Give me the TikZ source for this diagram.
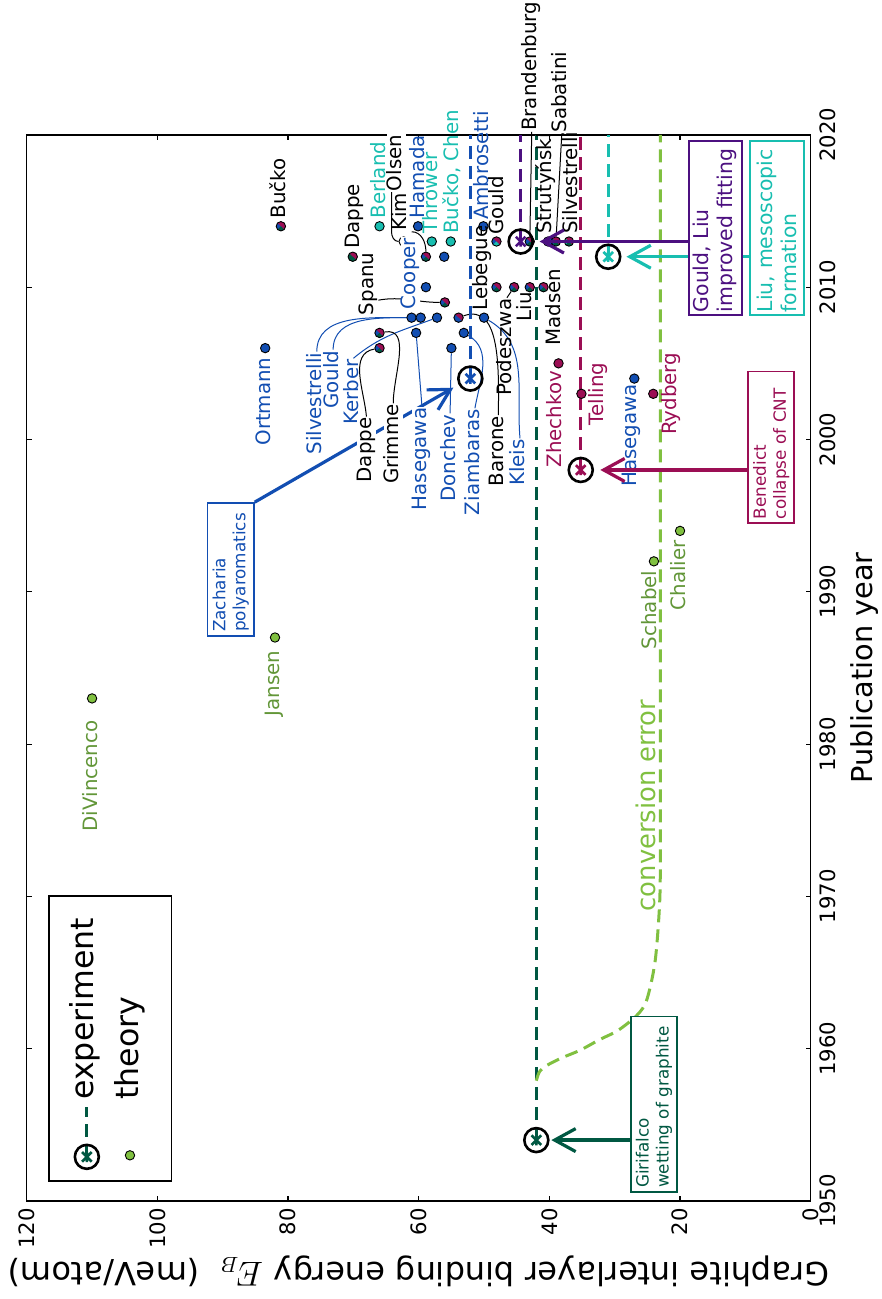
\documentclass[tikz,border=0pt]{standalone}
\usepackage{fontspec}
\setmainfont{DejaVu Sans}
\usetikzlibrary{arrows.meta,backgrounds}

\definecolor{cblue}{RGB}{18,78,178}
\definecolor{ccrim}{RGB}{155,14,84}
\definecolor{cdkgreen}{RGB}{0,88,66}
\definecolor{cteal}{RGB}{24,190,176}
\definecolor{cpurple}{RGB}{76,16,128}
\definecolor{clgreen}{RGB}{128,192,64}
\definecolor{colive}{RGB}{98,150,56}

% circled cross of an experiment
\newcommand{\exmark}[2]{%
  \draw[#2, line width=1.3pt] (#1) ++(-2.4pt,-2.4pt) -- ++(4.8pt,4.8pt)
    (#1) ++(-2.4pt,2.4pt) -- ++(4.8pt,-4.8pt) (#1) ++(-2.6pt,0pt) -- ++(5.2pt,0pt);
  \draw[line width=1.3pt] (#1) circle[radius=6pt];
}

\tikzset{
  lbl/.style={inner sep=0.3pt, text height=7pt, text depth=2pt, font=\fontsize{9.9}{12}\selectfont},
  wlbl/.style={lbl, fill=white},
  ticklbl/.style={inner sep=0pt, font=\fontsize{10.6}{13}\selectfont},
  axlbl/.style={inner sep=0pt, font=\fontsize{14.4}{17}\selectfont},
  leglbl/.style={inner sep=0pt, font=\fontsize{15.8}{19}\selectfont},
  pdot/.style={circle, draw=black, line width=0.45pt, inner sep=0pt, minimum size=4.7pt},
  pie/.style n args={3}{pdot, path picture={
      \fill[#2] (path picture bounding box.center) circle[radius=3pt];
      \fill[#1] (path picture bounding box.center) -- ++(-135:3pt) arc[start angle=-135, end angle=45, radius=3pt] -- cycle;
      \fill[#3] (path picture bounding box.center) -- ++(135:3pt) arc[start angle=135, end angle=225, radius=3pt] -- cycle;}},
  exline/.style={line width=1.5pt, dash pattern=on 6.5pt off 3.5pt},
  cline/.style={line width=0.5pt},
  arr/.style={line width=1.6pt, -{Straight Barb[length=10.5pt, width=11.5pt]}},
  sbox/.style={draw=#1, text=#1, line width=0.9pt, fill=white, inner sep=2pt, align=left, anchor=south west, font=\fontsize{8.4}{10}\selectfont},
  lbox/.style={draw=#1, text=#1, line width=0.9pt, fill=white, inner xsep=1.5pt, inner ysep=2pt, align=left, anchor=south west, text width=84.2pt, font=\fontsize{10.2}{12}\selectfont},
}

\begin{document}
\begin{tikzpicture}
\useasboundingbox (0,0) rectangle (441pt,-649.5pt);
\begin{scope}[shift={(405.35pt,-600.5pt)}, rotate=90, transform shape, x=7.615pt, y=3.2665pt]
%
\draw[line width=0.7pt] (0,0) rectangle (70,120);
\foreach \yy/\yl in {0/1950,10/1960,20/1970,30/1980,40/1990,50/2000,60/2010,70/2020}{
  \draw[line width=0.6pt] (\yy,0) -- ++(0pt,2.5pt) (\yy,120) -- ++(0pt,-2.5pt);
  \node[ticklbl, anchor=north] at (\yy,-1.3) {\yl};
}
\foreach \en in {0,20,...,120}{
  \draw[line width=0.6pt] (0,\en) -- ++(2.5pt,0pt) (70,\en) -- ++(-2.5pt,0pt);
  \node[ticklbl, anchor=east] at (-0.45,\en) {\en};
}
\node[axlbl, anchor=north] (xlab) at (35,-6) {Publication year};
\node[axlbl, anchor=south, rotate=90, font=\fontsize{16}{19}\selectfont] (ylab) at (-3.6,60) {Graphite interlayer binding energy $E_B$\ \ (meV/atom)};
%
\coordinate (gir) at (4,42);
\coordinate (ben) at (48,35.2);
\coordinate (zach) at (54,52.1);
\coordinate (gould) at (63,44.4);
\coordinate (liu) at (62,31);
\draw[exline, cdkgreen] (gir) -- ++(66,0);
\draw[exline, clgreen] plot[smooth] coordinates {(7.9,42) (8.5,41.5) (8.9,40.4) (9.4,38.1) (9.9,35.3) (10.6,32.3) (11.2,29.5) (12.2,26.6) (13.2,25.1) (15.8,23.8) (19.8,23.1) (24,23)} -- (70,23);
\draw[exline, ccrim] (ben) -- ++(22,0);
\draw[exline, cblue] (zach) -- ++(16,0);
\draw[exline, cpurple] (gould) -- ++(7,0);
\draw[exline, cteal] (liu) -- ++(8,0);
%
\node[sbox=cblue, text width=62.4pt, minimum height=23.2pt] (zachbox) at (37.05,85.1) {Zacharia\\polyaromatics};
\coordinate (zachtip) at (53.4,54.7);
\draw[arr, cblue] (zachbox.south east) -- (zachtip);
%
\node[pdot, fill=clgreen] (gDiV) at (33,110) {};
\node[pdot, fill=clgreen] (gJan) at (37,82) {};
\node[pdot, fill=clgreen] (gSch) at (42,24) {};
\node[pdot, fill=clgreen] (gCha) at (44,20) {};
\node[pdot, fill=cblue] (bOrt) at (56,83.5) {};
\node[pdot, fill=cblue] (b60) at (60,58.9) {};
\node[pdot, fill=cblue] (b58a) at (58,61.1) {};
\node[pdot, fill=cblue] (b58b) at (58,59.7) {};
\node[pdot, fill=cblue] (b58c) at (58,57.2) {};
\node[pdot, fill=cblue] (b58e) at (58,50) {};
\node[pdot, fill=cblue] (b57b) at (57,60.4) {};
\node[pdot, fill=cblue] (b57c) at (57,53.1) {};
\node[pdot, fill=cblue] (b56b) at (56,55) {};
\node[pdot, fill=cblue] (b62b) at (62,56.1) {};
\node[pdot, fill=cblue] (bHam) at (64,60.1) {};
\node[pdot, fill=cblue] (bAmb) at (64,50.1) {};
\node[pdot, fill=cblue] (bStru) at (63,40.2) {};
\node[pdot, fill=cblue] (bHas) at (54,27) {};
\node[pdot, fill=cteal] (tBerl) at (64,66) {};
\node[pdot, fill=cteal] (tThr) at (63,58) {};
\node[pdot, fill=cteal] (tBuCh) at (63,55.1) {};
\node[pdot, fill=white] (wOls) at (63,62.3) {};
\node[pdot, fill=ccrim] (cZhe) at (55,38.6) {};
\node[pdot, fill=ccrim] (cTel) at (53,35.1) {};
\node[pdot, fill=ccrim] (cRyd) at (53,24.1) {};
\node[pie={ccrim}{cblue}{cblue}] (p58d) at (58,53.9) {};
\node[pie={ccrim}{cblue}{cdkgreen}] (p57a) at (57,66) {};
\node[pie={ccrim}{cblue}{cdkgreen}] (p56a) at (56,66) {};
\node[pie={ccrim}{cblue}{cdkgreen}] (p59) at (59,56) {};
\node[pie={ccrim}{cblue}{cdkgreen}] (p60a) at (60,48.1) {};
\node[pie={ccrim}{cblue}{cdkgreen}] (p60b) at (60,45.4) {};
\node[pie={ccrim}{cblue}{cdkgreen}] (p60c) at (60,43) {};
\node[pie={ccrim}{cblue}{cdkgreen}] (p60d) at (60,40.9) {};
\node[pie={ccrim}{cdkgreen}{cdkgreen}] (p62a) at (62,70.1) {};
\node[pie={ccrim}{cblue}{cdkgreen}] (p62c) at (62,58.9) {};
\node[pie={ccrim}{cblue}{cteal}] (p63a) at (63,48.1) {};
\node[pie={ccrim}{cblue}{cdkgreen}] (p63b) at (63,43) {};
\node[pie={ccrim}{cblue}{cdkgreen}] (p63d) at (63,39) {};
\node[pie={ccrim}{cteal}{cdkgreen}] (p63e) at (63,37) {};
\node[pie={ccrim}{cblue}{cdkgreen}] (p64c) at (64,81.1) {};
%
\node[lbl, anchor=west] (lDappeR) at (62.45,69.9) {Dappe};
\node[lbl, anchor=west, text=cteal] (lBerl) at (64.45,65.9) {Berland};
\node[lbl, anchor=west, text=cblue] (lHam) at (64.45,59.9) {Hamada};
\node[lbl, anchor=west, text=cteal] (lThr) at (63.45,57.9) {Thrower};
\node[lbl, anchor=west, text=cteal] (lBuCh) at (63.45,54.7) {Bučko, Chen};
\node[lbl, anchor=west, text=cblue] (lAmb) at (64.35,50.1) {Ambrosetti};
\node[lbl, anchor=west] (lGouldR) at (63.4,47.8) {Gould};
\node[lbl, anchor=west] (lBuc) at (64.45,81.1) {Bučko};
\node[lbl, anchor=west] (lLeb) at (58.4,50.3) {Lebegue};
\node[lbl, anchor=west] (lStru) at (63.45,40.4) {Strutyński};
\node[lbl, anchor=west] (lSilvR) at (63.45,36.4) {Silvestrelli};
\node[wlbl, anchor=west, text=cblue] (lCoop) at (58.5,61.3) {Cooper};
\node[lbl, anchor=west] (lSpanu) at (58.1,67.7) {Spanu};
\node[lbl, anchor=west] (lKim) at (63.64,62.6) {Kim};
\node[wlbl, anchor=west] (lOlsen) at (66.25,63.4) {Olsen};
\node[wlbl, anchor=west] (lBrand) at (70.2,42.7) {Brandenburg};
\node[wlbl, anchor=west] (lSab) at (70.1,38.1) {Sabatini};
\node[lbl, anchor=west] (lMads) at (56.1,39.1) {Madsen};
\node[lbl, anchor=west] (lPod) at (52.8,46.5) {Podeszwa};
\node[lbl, anchor=west] (lLiu) at (57.7,43.5) {Liu};
%
\node[lbl, anchor=east, text=colive] (lDiV) at (31.6,110) {DiVincenco};
\node[lbl, anchor=east, text=colive] (lJan) at (36.2,82) {Jansen};
\node[lbl, anchor=east, text=colive] (lSch) at (41.45,24.4) {Schabel};
\node[lbl, anchor=east, text=colive] (lCha) at (43.45,20) {Chalier};
\node[lbl, anchor=east, text=cblue] (lOrt) at (55.45,83.5) {Ortmann};
\node[lbl, anchor=east, text=ccrim] (lZhe) at (54.56,38.9) {Zhechkov};
\node[lbl, anchor=east, text=cblue] (lHasR) at (53.7,27.4) {Hasegawa};
\node[lbl, anchor=east, text=cblue] (lSilvL) at (55.77,75.6) {Silvestrelli};
\node[lbl, anchor=east, text=cblue] (lGouldL) at (55.9,73.1) {Gould};
\node[lbl, anchor=east, text=cblue] (lKerb) at (55.33,70) {Kerber};
\node[wlbl, anchor=east] (lDappeL) at (51.5,68) {Dappe};
\node[wlbl, anchor=east] (lGrim) at (52.38,63.9) {Grimme};
\node[wlbl, anchor=east, text=cblue] (lHasL) at (52.15,59.5) {Hasegawa};
\node[lbl, anchor=east, text=cblue] (lDon) at (51.72,55.2) {Donchev};
\node[lbl, anchor=east, text=cblue] (lZiam) at (52.05,51.4) {Ziambaras};
\node[lbl, anchor=east] (lBar) at (51.6,47.8) {Barone};
\node[lbl, anchor=east, text=cblue] (lKleis) at (50.08,44.5) {Kleis};
\node[lbl, text=ccrim] (lTel) at (53,32.5) {Telling};
\node[lbl, text=ccrim] (lRyd) at (53,21.3) {Rydberg};
%
\begin{scope}[on background layer]
\draw[cline, cblue] (lSilvL.east) to[out=0, in=90] (b58a);
\draw[cline, cblue] (lGouldL.east) to[out=0, in=90] (b58b);
\draw[cline, cblue] (lKerb.east) to[out=-50, in=110] (b58c);
\draw[cline] (lDappeL.east) to[out=5, in=100] (p56a);
\draw[cline] (lGrim.east) to[out=0, in=-80] (p57a);
\draw[cline, cblue] (lHasL.east) -- (b57b);
\draw[cline, cblue] (lDon.east) -- (b56b);
\draw[cline, cblue] (lZiam.east) to[out=-10, in=-120] (b57c);
\draw[cline] (lBar.east) to[out=0, in=-70] (p58d);
\draw[cline, cblue] (lKleis.east) to[out=5, in=-120] (b58e);
\draw[cline] ([xshift=8pt]lSpanu.south west) to[out=-80, in=90] (p59);
\draw[cline] (lKim.south west) to[out=-90, in=0] (p62c);
\draw[cline] ([yshift=2.5pt]lOlsen.west) -- ++(-2.6,0) to[out=180, in=90] (wOls);
\draw[cline] (lPod.east) -- (p60b);
\draw[cline] (lLiu.east) -- (p60c);
\draw[cline] (lBrand.west) -- (p63b);
\draw[cline] (lSab.west) -- (p63d);
\end{scope}
%
\exmark{gir}{cdkgreen}
\exmark{ben}{ccrim}
\exmark{zach}{cblue}
\exmark{gould}{cpurple}
\exmark{liu}{cteal}
%
\node[lbox=cteal, minimum height=27.1pt] (liubox) at (58.1,0.87) {Liu, mesoscopic\\formation};
\coordinate (liutip) at (62,28.2);
\draw[arr, cteal] (liu |- liubox.north) -- (liutip);
\node[lbox=cpurple, minimum height=26.5pt] (gouldbox) at (58.1,10.4) {Gould, Liu\\improved fitting};
\coordinate (gouldtip) at (63,41.5);
\draw[arr, cpurple] (gould |- gouldbox.north) -- (gouldtip);
\node[sbox=ccrim, text width=71.8pt, minimum height=22.9pt] (benbox) at (44.45,2.4) {Benedict\\collapse of CNT};
\coordinate (bentip) at (48,32.2);
\draw[arr, ccrim] (ben |- benbox.north) -- (bentip);
\node[sbox=cdkgreen, text width=83.7pt, minimum height=23.2pt] (girbox) at (0.54,20.3) {Girifalco\\wetting of graphite};
\coordinate (girtip) at (4,39.7);
\draw[arr, cdkgreen] (gir |- girbox.north) -- (girtip);
%
\node[inner sep=0pt, anchor=west, text=clgreen, font=\fontsize{12.9}{15}\selectfont] (conv) at (19,25.2) {conversion error};
%
\node[draw, fill=white, line width=0.6pt, inner sep=0pt, anchor=south west, minimum width=142.5pt, minimum height=61.1pt] (legend) at (1.27,97.8) {};
\coordinate (legx) at (2.9,110.8);
\draw[exline, cdkgreen] (legx) -- ++(3.3,0);
\exmark{legx}{cdkgreen}
\node[leglbl, anchor=west] (legexp) at (6.63,111.1) {experiment};
\node[pdot, fill=clgreen] (legdot) at (3,104.2) {};
\node[leglbl, anchor=west] (legth) at (6.63,104.2) {theory};
\end{scope}
\end{tikzpicture}
\end{document}
